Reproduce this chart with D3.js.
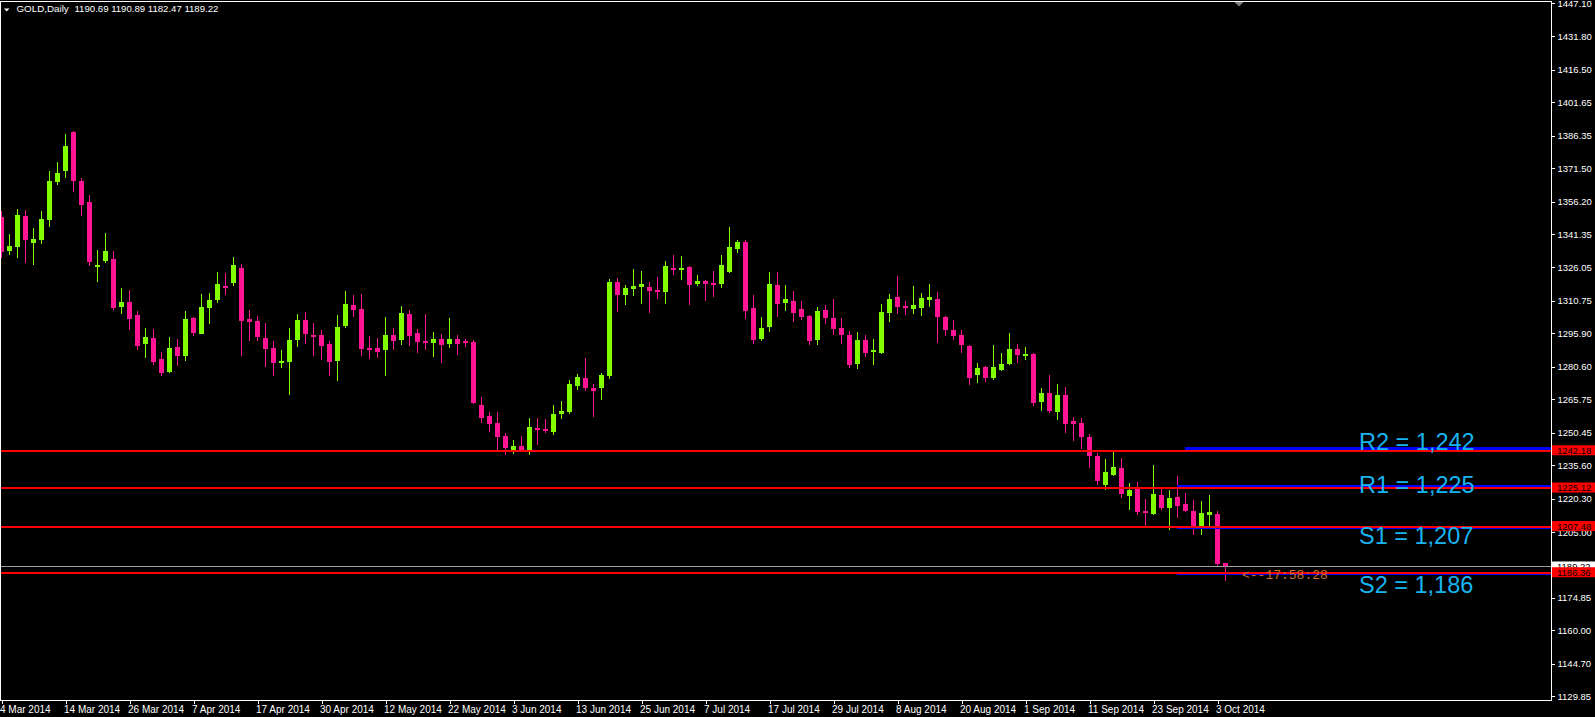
<!DOCTYPE html>
<html><head><meta charset="utf-8">
<script src="https://cdn.jsdelivr.net/npm/d3@7"></script>
<style>html,body{margin:0;padding:0;background:#000;overflow:hidden}svg{display:block}</style>
</head><body><svg id="c" width="1595" height="717"></svg>
<script>
// ---- data (GOLD, Daily), bar 0 = 4 Mar 2014 ----
const opens = [1349.1,1333.5,1335.4,1349.6,1337.2,1338.6,1347.7,1365.1,1370.2,1388.0,
1365.6,1356.0,1326.2,1329.0,1329.9,1307.9,1310.2,1304.3,1291.0,1293.7,
1284.1,1278.2,1289.6,1285.5,1302.9,1295.6,1307.5,1311.1,1317.5,1318.9,
1325.8,1302.4,1301.5,1293.7,1289.2,1282.8,1282.8,1292.8,1302.0,1295.1,
1295.1,1291.0,1283.2,1299.2,1308.8,1307.0,1289.2,1289.2,1288.3,1295.1,
1292.8,1304.7,1296.0,1292.4,1291.5,1293.3,1291.0,1293.3,1292.4,1291.9,
1263.1,1258.1,1254.9,1248.9,1242.5,1244.3,1242.5,1252.6,1252.1,1250.7,
1259.0,1259.9,1271.8,1275.4,1270.9,1270.9,1276.4,1319.4,1313.4,1316.2,
1317.1,1317.1,1315.7,1314.8,1325.8,1325.5,1326.2,1318.5,1319.8,1318.9,
1318.5,1323.9,1334.5,1337.7,1307.5,1293.3,1298.8,1318.0,1309.8,1310.7,
1307.0,1303.8,1292.8,1306.6,1302.9,1298.3,1295.1,1281.9,1292.8,1287.3,
1286.9,1305.2,1312.5,1308.4,1307.0,1307.5,1311.1,1311.6,1303.3,1297.4,
1295.1,1290.1,1276.8,1280.5,1275.4,1279.1,1281.9,1288.7,1286.0,1286.4,
1264.5,1268.6,1259.9,1267.7,1255.8,1254.9,1248.4,1239.8,1226.5,1231.1,
1234.3,1221.5,1224.7,1214.6,1213.2,1221.9,1216.0,1221.0,1217.8,1214.6,
1207.7,1212.8,1213.2,1190.69];
const highs = [1352.0,1341.3,1352.8,1352.3,1344.1,1351.9,1370.2,1374.3,1387.1,1388.4,
1366.8,1359.2,1334.0,1341.8,1333.5,1316.6,1315.7,1306.1,1298.3,1297.9,
1287.3,1294.2,1293.3,1306.1,1303.3,1313.9,1314.3,1323.9,1323.5,1330.8,
1327.6,1306.6,1303.8,1300.6,1292.4,1288.3,1298.3,1304.7,1305.6,1300.6,
1297.4,1292.4,1304.3,1315.3,1313.4,1313.9,1294.7,1293.7,1303.3,1298.3,
1308.4,1306.6,1297.9,1304.7,1296.5,1295.6,1302.9,1295.1,1293.3,1292.8,
1266.7,1259.9,1259.9,1250.3,1247.1,1248.9,1257.1,1257.1,1256.7,1263.1,
1264.9,1274.5,1277.3,1284.6,1272.7,1277.7,1320.7,1321.2,1318.0,1325.3,
1324.4,1319.4,1321.7,1329.0,1331.7,1331.3,1326.7,1322.6,1320.2,1324.4,
1331.7,1344.5,1338.6,1338.6,1313.4,1303.3,1323.9,1323.9,1318.0,1315.3,
1310.7,1304.3,1307.9,1308.8,1311.6,1302.9,1296.9,1296.5,1295.1,1293.3,
1309.3,1313.9,1322.1,1310.7,1317.5,1314.3,1318.5,1314.8,1303.8,1302.0,
1297.4,1290.5,1282.3,1281.0,1290.5,1286.9,1296.0,1291.0,1289.6,1286.9,
1270.9,1276.8,1272.7,1271.3,1257.6,1257.1,1249.8,1241.1,1238.4,1241.6,
1238.8,1227.4,1227.9,1220.1,1235.6,1225.1,1224.2,1230.6,1222.8,1219.6,
1219.2,1221.9,1214.6,1190.89];
const lows = [1330.5,1331.7,1330.3,1328.1,1327.1,1336.8,1344.5,1363.8,1367.1,1360.5,
1349.6,1326.7,1319.4,1328.1,1306.6,1304.7,1297.4,1288.3,1284.6,1281.4,
1276.4,1277.7,1280.9,1283.2,1294.7,1295.6,1300.2,1309.8,1313.4,1317.5,
1285.5,1292.4,1292.4,1280.5,1276.4,1280.0,1267.7,1289.6,1291.0,1285.5,
1283.7,1276.4,1274.1,1298.3,1303.3,1285.5,1284.1,1284.6,1276.4,1288.3,
1290.5,1290.1,1286.9,1288.3,1285.1,1282.3,1289.2,1286.0,1289.6,1263.5,
1254.9,1250.7,1242.0,1240.2,1240.7,1241.6,1240.2,1244.8,1250.3,1249.4,
1256.7,1259.0,1270.0,1269.5,1257.6,1265.4,1275.0,1305.6,1308.8,1313.0,
1309.3,1305.2,1311.6,1309.3,1322.6,1320.3,1308.8,1317.5,1310.7,1312.5,
1316.6,1323.5,1332.6,1302.4,1291.0,1292.4,1296.5,1303.3,1306.1,1301.1,
1302.0,1290.5,1290.5,1300.2,1295.1,1291.0,1280.0,1279.6,1285.1,1281.4,
1286.4,1301.1,1304.7,1304.3,1304.7,1303.8,1307.9,1291.5,1294.7,1292.8,
1286.9,1272.2,1273.2,1273.6,1274.5,1278.6,1281.4,1282.3,1283.7,1262.6,
1260.3,1259.4,1256.2,1250.3,1246.6,1243.0,1234.3,1226.5,1224.2,1230.8,
1220.5,1215.0,1212.8,1207.7,1212.8,1215.0,1205.9,1211.4,1214.1,1203.6,
1203.6,1207.7,1189.5,1182.47];
const closes = [1333.1,1335.8,1350.0,1338.7,1339.2,1348.2,1365.6,1369.4,1381.6,1365.6,
1354.6,1328.5,1327.1,1333.5,1307.5,1310.2,1302.4,1290.1,1294.2,1282.8,
1277.7,1289.2,1285.5,1302.4,1296.0,1307.9,1311.1,1318.5,1317.2,1327.1,
1301.5,1301.1,1294.2,1288.7,1282.3,1283.2,1292.8,1302.0,1295.6,1294.7,
1290.1,1282.8,1298.8,1309.3,1306.6,1288.7,1288.3,1287.3,1295.1,1292.4,
1305.2,1294.7,1291.9,1292.0,1293.3,1290.5,1293.3,1291.0,1291.5,1264.0,
1257.1,1254.4,1248.4,1243.4,1244.3,1242.5,1253.0,1251.7,1251.2,1259.0,
1260.3,1272.7,1275.9,1270.9,1269.5,1276.8,1319.4,1313.4,1316.6,1317.5,
1318.5,1315.3,1314.8,1326.7,1325.5,1325.8,1318.0,1319.8,1318.5,1318.0,
1327.1,1335.4,1337.7,1306.1,1292.8,1298.3,1318.5,1309.3,1311.6,1305.2,
1303.3,1292.4,1306.1,1302.9,1297.9,1295.1,1281.4,1292.8,1286.9,1288.3,
1305.6,1311.6,1307.9,1307.5,1308.8,1312.0,1312.5,1303.3,1297.4,1294.7,
1290.5,1275.4,1280.0,1275.4,1280.5,1281.9,1288.7,1286.0,1286.4,1264.0,
1268.6,1260.3,1267.7,1254.4,1254.4,1248.4,1239.8,1228.3,1232.4,1234.7,
1222.4,1224.2,1214.1,1213.7,1222.4,1216.0,1220.5,1216.9,1214.6,1207.7,
1213.7,1214.1,1190.5,1189.22];

const dateTickLabels = ["4 Mar 2014","14 Mar 2014","26 Mar 2014","7 Apr 2014","17 Apr 2014",
"30 Apr 2014","12 May 2014","22 May 2014","3 Jun 2014","13 Jun 2014","25 Jun 2014",
"7 Jul 2014","17 Jul 2014","29 Jul 2014","8 Aug 2014","20 Aug 2014","1 Sep 2014",
"11 Sep 2014","23 Sep 2014","3 Oct 2014"];
const barsPerDateTick = 8;
const priceTicks = [1447.10,1431.80,1416.50,1401.65,1386.35,1371.50,1356.20,1341.35,
1326.05,1310.75,1295.90,1280.60,1265.75,1250.45,1235.60,1220.30,1205.00,1174.85,
1160.00,1144.70,1129.85];
const levelNames = ["R2","R1","S1","S2"];
const levelValues = [1242.18,1225.12,1207.48,1186.36];
const levelLabels = ["1,242","1,225","1,207","1,186"];
const blueLevels = [1243.3,1226.1,1206.7,1185.7];
const symbolTitle = "GOLD,Daily";
const countdown = "<--17:58:28";

// ---- drawing ----
const svg = d3.select("#c");
const W = 1595, H = 717, plotRight = 1551.5, plotBottom = 700;
const BULL = "#7FFF00", BEAR = "#FF1493";
const N = opens.length;
const x = d3.scaleLinear().domain([0, N - 1]).range([1.5, 1.5 + 8 * (N - 1)]);
const y = d3.scaleLinear().domain([1129.85, 1447.10]).range([696.2, 3.0]);
const fmt = d3.format(".2f");
const FONT = "'Liberation Sans', Arial, sans-serif";

svg.append("rect").attr("width", W).attr("height", H).attr("fill", "#000");

const plot = svg.append("g").attr("shape-rendering", "crispEdges");

// bid line
const last = closes[N - 1];
plot.append("line").attr("x1", 0).attr("x2", plotRight).attr("y1", Math.round(y(last)) + 0.5).attr("y2", Math.round(y(last)) + 0.5)
  .attr("stroke", "#A0A0A0").attr("stroke-width", 1);

// candles
const bars = d3.range(N);
const cg = plot.append("g");
cg.selectAll("line.wick").data(bars).join("line").attr("class", "wick")
  .attr("x1", i => x(i)).attr("x2", i => x(i))
  .attr("y1", i => y(highs[i])).attr("y2", i => y(lows[i]))
  .attr("stroke", i => closes[i] >= opens[i] ? BULL : BEAR).attr("stroke-width", 1);
cg.selectAll("rect.body").data(bars).join("rect").attr("class", "body")
  .attr("x", i => x(i) - 2.5).attr("width", 5)
  .attr("y", i => y(Math.max(opens[i], closes[i])))
  .attr("height", i => Math.max(1.5, Math.abs(y(opens[i]) - y(closes[i]))))
  .attr("fill", i => closes[i] >= opens[i] ? BULL : BEAR);

// blue level lines (partial)
const blueStart = [1185, 1177, 1177, 1177];
const blueWidth = [3, 2, 2, 2];
plot.selectAll("line.blue").data(blueLevels).join("line").attr("class", "blue")
  .attr("x1", (d, i) => blueStart[i]).attr("x2", plotRight)
  .attr("y1", d => y(d)).attr("y2", d => y(d))
  .attr("stroke", "#0000FF").attr("stroke-width", (d, i) => blueWidth[i]);
// red level lines
plot.selectAll("line.red").data(levelValues).join("line").attr("class", "red")
  .attr("x1", 0).attr("x2", plotRight)
  .attr("y1", d => y(d)).attr("y2", d => y(d))
  .attr("stroke", "#FF0000").attr("stroke-width", 2);

// level texts
const ltxt = [450, 492.7, 544, 593.3];
svg.selectAll("text.lvl").data(levelValues).join("text").attr("class", "lvl")
  .attr("x", 1359).attr("y", (d, i) => ltxt[i])
  .attr("font-family", FONT).attr("font-size", 23.5).attr("fill", "#18B4F0")
  .text((d, i) => levelNames[i] + " = " + levelLabels[i]);

// countdown
svg.append("text").attr("x", 1242).attr("y", 579.3)
  .attr("font-family", "'Liberation Mono', 'DejaVu Sans Mono', monospace").attr("font-size", 13)
  .attr("fill", "#C8702A").text(countdown);

// frame
svg.append("rect").attr("x", 0.5).attr("y", 1.5).attr("width", plotRight - 0.5).attr("height", plotBottom - 1.5)
  .attr("fill", "none").attr("stroke", "#fff").attr("stroke-width", 1).attr("shape-rendering", "crispEdges");

// right price axis
const yAxis = d3.axisRight(y).tickValues(priceTicks).tickFormat(fmt).tickSize(3).tickPadding(3);
const ya = svg.append("g").attr("transform", `translate(${plotRight},0)`).call(yAxis);
ya.select(".domain").remove();
ya.selectAll("line").attr("stroke", "#fff").attr("shape-rendering", "crispEdges");
ya.selectAll("text").attr("fill", "#fff").attr("font-family", FONT).attr("font-size", 9.5).attr("x", 6);

// bottom date axis
const dateIdx = dateTickLabels.map((d, i) => i * barsPerDateTick);
const xAxis = d3.axisBottom(x).tickValues(dateIdx).tickFormat((d, i) => dateTickLabels[i]).tickSize(4);
const xa = svg.append("g").attr("transform", `translate(0,${plotBottom})`).call(xAxis);
xa.select(".domain").remove();
xa.selectAll("line").attr("stroke", "#fff").attr("shape-rendering", "crispEdges");
xa.selectAll("text").attr("fill", "#fff").attr("font-family", FONT).attr("font-size", 10)
  .attr("text-anchor", "start").attr("x", -2).attr("y", 13).attr("dy", 0);

// price labels on axis
const boxH = 10;
svg.append("rect").attr("x", 1552).attr("y", y(last) - 5).attr("width", 43).attr("height", boxH).attr("fill", "#fff");
svg.append("text").attr("x", 1557).attr("y", y(last) + 3.5).attr("font-family", FONT).attr("font-size", 9.5)
  .attr("fill", "#000").text(fmt(last));
const lab = svg.selectAll("g.plab").data(levelValues).join("g").attr("class", "plab");
lab.append("rect").attr("x", 1552).attr("y", d => y(d) - 5.5).attr("width", 43).attr("height", boxH).attr("fill", "#FF0000");
lab.append("text").attr("x", 1557).attr("y", d => y(d) + 3.3).attr("font-family", FONT).attr("font-size", 9.5)
  .attr("fill", "#000").text(d => fmt(d));

// header
svg.append("path").attr("d", "M4,8.5 L9.5,8.5 L6.75,11.5 Z").attr("fill", "#fff");
svg.append("text").attr("x", 16.5).attr("y", 12).attr("font-family", FONT).attr("font-size", 9.8).attr("fill", "#fff")
  .text(symbolTitle);
svg.append("text").attr("x", 74.5).attr("y", 12).attr("font-family", FONT).attr("font-size", 9.6).attr("fill", "#fff")
  .text([opens[N-1], highs[N-1], lows[N-1], closes[N-1]].map(fmt).join(" "));

// chart shift marker
svg.append("path").attr("d", "M1234.5,2 L1243.5,2 L1239,6.5 Z").attr("fill", "#808080");
</script></body></html>
